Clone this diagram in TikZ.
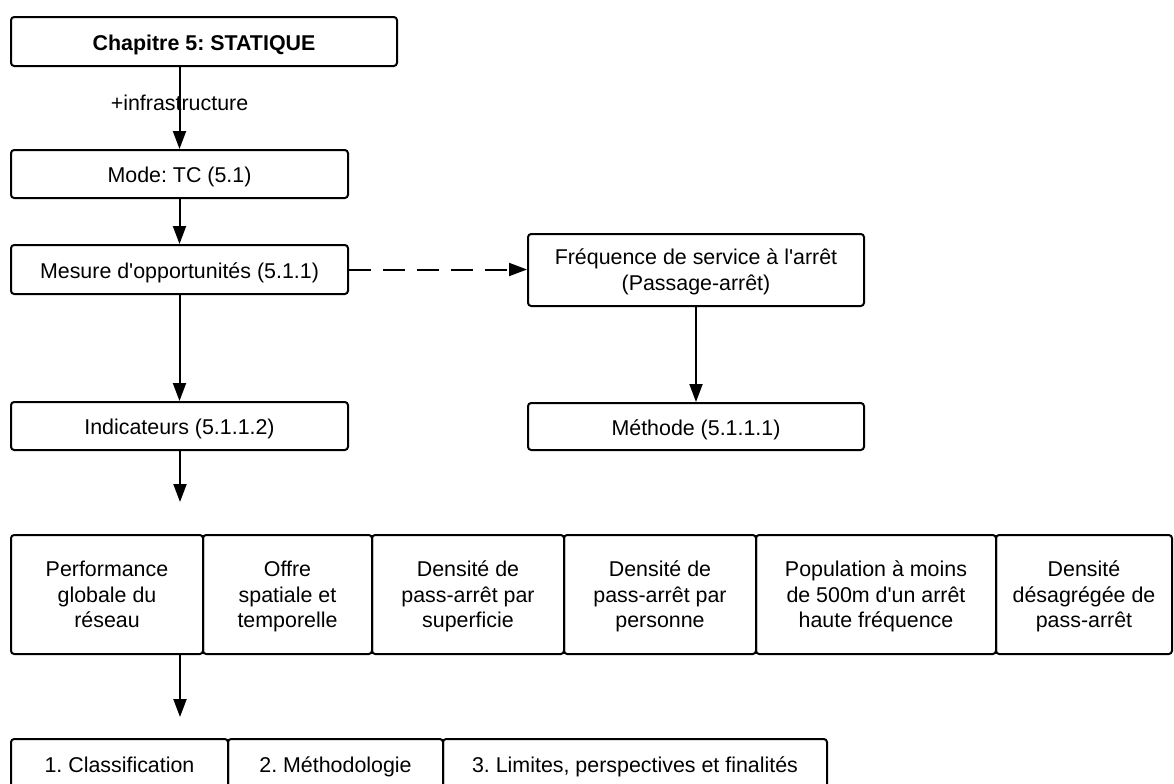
\documentclass[tikz,border=0pt]{standalone}
\usepackage{fontspec}
\setmainfont{Liberation Sans}[Ligatures=TeXOff]
\usetikzlibrary{arrows.meta}
\newcommand\fsz{\fontsize{10.7}{12.75}\selectfont\frenchspacing}
\begin{document}
\begin{tikzpicture}[x=0.5pt,y=-0.5pt,
  box/.style={draw, line width=1pt, rounded corners=1.6pt, inner sep=0pt, align=center, font=\fsz},
  one/.style={box, text height=10pt, text depth=1.1pt},
  two/.style={box, text height=20.45pt, text depth=-2.25pt},
  three/.style={box, text height=33.2pt, text depth=-2.5pt},
  arr/.style={line width=1pt, -{Triangle[length=9pt,width=6.5pt]}},
  lbl/.style={font=\fsz, inner sep=0pt}]
\useasboundingbox (0,0) rectangle (1174,783);
% top chain
\node[one, font=\fsz\bfseries, minimum width=193pt, minimum height=24.5pt] (top) at (204,41.5) {Chapitre 5: STATIQUE};
\node[one, minimum width=168.5pt, minimum height=24pt] (mode) at (179.5,174) {Mode: TC (5.1)};
\node[one, minimum width=168.5pt, minimum height=24.5pt] (mes) at (179.5,269.5) {Mesure d'opportunités (5.1.1)};
\node[two, minimum width=168pt, minimum height=36pt] (freq) at (696,270) {Fréquence de service à l'arrêt\\(Passage-arrêt)};
\node[one, minimum width=168.5pt, minimum height=24pt] (ind) at (179.5,426) {Indicateurs (5.1.1.2)};
\node[one, minimum width=168pt, minimum height=23.5pt] (meth) at (696,426.5) {Méthode (5.1.1.1)};
% indicator row
\node[three, minimum width=96pt, minimum height=59.5pt] (r1) at (107,594.5) {Performance\\globale du\\réseau};
\node[three, minimum width=84.5pt, minimum height=59.5pt] (r2) at (287.5,594.5) {Offre\\spatiale et\\temporelle};
\node[three, minimum width=96pt, minimum height=59.5pt] (r3) at (468,594.5) {Densité de\\pass-arrêt par\\superficie};
\node[three, minimum width=96pt, minimum height=59.5pt] (r4) at (660,594.5) {Densité de\\pass-arrêt par\\personne};
\node[three, minimum width=120pt, minimum height=59.5pt] (r5) at (876,594.5) {Population à moins\\de 500m d'un arrêt\\haute fréquence};
\node[three, minimum width=88pt, minimum height=59.5pt] (r6) at (1084,594.5) {Densité\\désagrégée de\\pass-arrêt};
% bottom row
\node[one, minimum width=108.5pt, minimum height=24.5pt] (b1) at (119.5,763.5) {1. Classification};
\node[one, minimum width=107.5pt, minimum height=24.5pt] (b2) at (335.5,763.5) {2. Méthodologie};
\node[one, minimum width=192pt, minimum height=24.5pt] (b3) at (635,763.5) {3. Limites, perspectives et finalités};
% free arrow ends
\coordinate (e1) at (180,502);
\coordinate (e2) at (180,717);
% connectors
\draw[arr] (top.south -| mode.north) -- node[lbl, pos=0.44] {+infrastructure} (mode.north);
\draw[arr] (mode) -- (mes);
\draw[arr] (mes) -- (ind);
\draw[arr, dashed, dash pattern=on 11pt off 6pt] (mes.east) -- (freq.west |- mes.east);
\draw[arr] (freq) -- (meth);
\draw[arr] (ind.south -| e1) -- (e1);
\draw[arr] (r1.south -| e2) -- (e2);
\end{tikzpicture}
\end{document}
